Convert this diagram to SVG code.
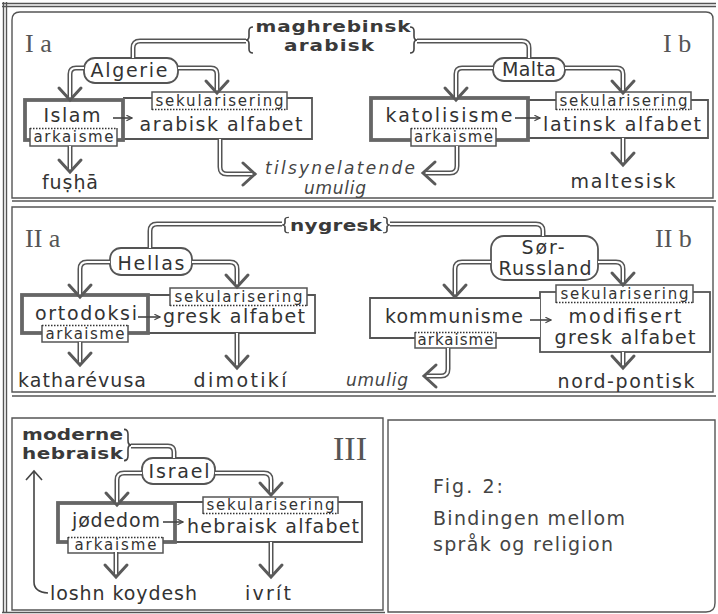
<svg xmlns="http://www.w3.org/2000/svg" xmlns:xlink="http://www.w3.org/1999/xlink" width="718" height="614" viewBox="0 0 718 614">
<style>
.frame{fill:none;stroke:#555;stroke-width:1.4}
.pO{fill:none;stroke:#555;stroke-width:5}
.pI{fill:none;stroke:#fff;stroke-width:2}
.ah{fill:none;stroke:#5a5a5a;stroke-width:3;stroke-linecap:round}
.sa{fill:none;stroke:#444;stroke-width:1.6}
.thin{fill:none;stroke:#444;stroke-width:1.6}
.box{fill:#fff;stroke:#555;stroke-width:1.8}
.tbox{fill:#fff;stroke:#666;stroke-width:3.8}
.pill{fill:#fff;stroke:#555;stroke-width:1.8}
.tag{fill:#fff;stroke:none}
.side{fill:none;stroke:#555;stroke-width:1.5}
.dot{fill:none;stroke:#333;stroke-width:1.5;stroke-dasharray:1.5 1.5}
.brace{fill:none;stroke:#444;stroke-width:1.6}
.lbl{font-family:"DejaVu Sans",sans-serif;font-size:19px;fill:#333}
.sm{font-size:15px}
.b{font-weight:bold;font-size:20px;fill:#3a3a3a}
.it{font-style:italic;fill:#444;font-size:17px}
.hdr{font-family:"Liberation Serif",serif;fill:#555}
.fig{font-family:"DejaVu Sans",sans-serif;font-size:19px;fill:#444}
</style>
<defs>
<path id="ah" d="M-11,-12 L0,0 L11,-12"/>
<path id="br" d="M4,-13 Q0,-13 0,-9 V-4 Q0,0 -3,0 Q0,0 0,4 V9 Q0,13 4,13"/>
<marker id="sm" viewBox="0 0 10 10" refX="9" refY="5" markerWidth="7" markerHeight="7" orient="auto" markerUnits="userSpaceOnUse">
<path d="M1,1 L9,5 L1,9" fill="none" stroke="#444" stroke-width="1.6"/>
</marker>
<path id="c1" d="M246,41 H140 Q133,41 133,48 V58"/>
<path id="c2" d="M84,68 H76 Q70,68 70,74 V98"/>
<path id="c3" d="M178,68 H211 Q217,68 217,74 V91"/>
<path id="c4" d="M70,146 V170"/>
<path id="c5" d="M220,139 V167 Q220,174 227,174 H253"/>
<path id="c6" d="M417,41 H522 Q529,41 529,48 V58"/>
<path id="c7" d="M493,68 H462 Q456,68 456,74 V98"/>
<path id="c8" d="M565,68 H617 Q623,68 623,74 V91"/>
<path id="c9" d="M457,146 V166 Q457,173 450,173 H425"/>
<path id="c10" d="M623,138 V163"/>
<path id="c11" d="M282,224 H157 Q150,224 150,231 V248"/>
<path id="c12" d="M110,262 H87 Q80,262 80,269 V295"/>
<path id="c13" d="M192,262 H230 Q237,262 237,269 V285"/>
<path id="c14" d="M80,342 V363"/>
<path id="c15" d="M237,333 V366"/>
<path id="c16" d="M390,224 H536 Q543,224 543,231 V236"/>
<path id="c17" d="M491,262 H462 Q455,262 455,269 V295"/>
<path id="c18" d="M598,262 H616 Q623,262 623,269 V283"/>
<path id="c19" d="M448,348 V369 Q448,376 441,376 H426"/>
<path id="c20" d="M623,352 V366"/>
<path id="c21" d="M131,446 H168 Q174,446 174,452 V458"/>
<path id="c22" d="M142,473 H124 Q117,473 117,480 V503"/>
<path id="c23" d="M215,473 H264 Q271,473 271,480 V493"/>
<path id="c24" d="M116,552 V575"/>
<path id="c25" d="M271,542 V575"/>
</defs>
<rect width="718" height="614" fill="#fff"/>

<g id="frames">
<path class="frame" d="M2,3.5 H716 M2,6.5 H716 M3.5,2 V612 M6.5,2 V612"/>
<path class="frame" d="M12,198 V20 Q12,12 20,12 H706 Q713,12 713,19 V198 Z"/>
<path class="frame" d="M12,201 H716"/>
<path class="frame" d="M12,207 H713 V392 H12 Z"/>
<path class="frame" d="M12,396 H716"/>
<path class="frame" d="M12,418 H383 V610 H12 Z"/>
<path class="frame" d="M2,612.5 H385"/>
<path class="frame" d="M388,420 H715 V603 Q715,612 706,612 H388 Z"/>
</g>

<g id="headers">
<text class="hdr" x="25" y="52" font-size="26">I a</text>
<text class="hdr" x="663" y="52" font-size="26">I b</text>
<text class="hdr" x="25" y="247" font-size="26">II a</text>
<text class="hdr" x="655" y="247" font-size="26">II b</text>
<text class="hdr" x="333" y="460" font-size="34">III</text>
</g>

<!-- Panel I a -->
<g id="maghrebinsk">
<use href="#br" class="brace" transform="translate(249,40)"/>
<use href="#br" class="brace" transform="translate(414,40) scale(-1,1)"/>
<text class="lbl b" transform="translate(333,32) scale(1,0.78)" text-anchor="middle" textLength="155" lengthAdjust="spacing">maghrebinsk</text>
<text class="lbl b" transform="translate(329,51) scale(1,0.78)" text-anchor="middle" textLength="90" lengthAdjust="spacing">arabisk</text>
</g>
<g id="algerie">
<rect class="pill" x="84" y="58" width="94" height="25" rx="11"/>
<text class="lbl" x="129" y="77" text-anchor="middle" textLength="77" lengthAdjust="spacing">Algerie</text>
</g>
<g id="arabisk-alfabet">
<path class="box" d="M123,98 H312 V139 H123"/>
<text class="lbl" x="221" y="131" text-anchor="middle" textLength="163" lengthAdjust="spacing">arabisk alfabet</text>
</g>
<g id="islam">
<rect class="tbox" x="25" y="100" width="98" height="40"/>
<text class="lbl" x="72" y="122" text-anchor="middle" textLength="57" lengthAdjust="spacing">Islam</text>
</g>
<g id="sek-1">
<rect class="tag" x="152" y="92" width="135" height="18"/>
<path class="side" d="M152,110 V92 H287 V110"/>
<path class="dot" d="M152,109.5 H287"/>
<text class="lbl sm" x="219.5" y="106" text-anchor="middle" textLength="128" lengthAdjust="spacing">sekularisering</text>
</g>
<g id="ark-1">
<rect class="tag" x="30" y="128" width="87" height="18"/>
<path class="side" d="M30,128 V146 H117 V128"/>
<path class="dot" d="M30,128.5 H117"/>
<text class="lbl sm" x="73.5" y="142" text-anchor="middle" textLength="80" lengthAdjust="spacing">arkaisme</text>
</g>
<g id="fusha"><text class="lbl" x="70" y="189" text-anchor="middle" textLength="56" lengthAdjust="spacing">fuṣḥā</text></g>
<g id="tilsynelatende">
<text class="lbl it" x="340" y="174" text-anchor="middle" textLength="150" lengthAdjust="spacing">tilsynelatende</text>
<text class="lbl it" x="335" y="194" text-anchor="middle" textLength="62" lengthAdjust="spacing">umulig</text>
</g>

<!-- Panel I b -->
<g id="malta">
<rect class="pill" x="493" y="58" width="72" height="23" rx="11"/>
<text class="lbl" x="529" y="76" text-anchor="middle" textLength="54" lengthAdjust="spacing">Malta</text>
</g>
<g id="latinsk-alfabet">
<path class="box" d="M528,100 H708 V138 H528"/>
<text class="lbl" x="622" y="131" text-anchor="middle" textLength="158" lengthAdjust="spacing">latinsk alfabet</text>
</g>
<g id="katolisisme">
<rect class="tbox" x="371" y="98" width="157" height="42"/>
<text class="lbl" x="449" y="122" text-anchor="middle" textLength="127" lengthAdjust="spacing">katolisisme</text>
</g>
<g id="sek-2">
<rect class="tag" x="556" y="92" width="135" height="18"/>
<path class="side" d="M556,110 V92 H691 V110"/>
<path class="dot" d="M556,109.5 H691"/>
<text class="lbl sm" x="623.5" y="106" text-anchor="middle" textLength="128" lengthAdjust="spacing">sekularisering</text>
</g>
<g id="ark-2">
<rect class="tag" x="411" y="128" width="85" height="18"/>
<path class="side" d="M411,128 V146 H496 V128"/>
<path class="dot" d="M411,128.5 H496"/>
<text class="lbl sm" x="453.5" y="142" text-anchor="middle" textLength="79" lengthAdjust="spacing">arkaisme</text>
</g>
<g id="maltesisk"><text class="lbl" x="623" y="188" text-anchor="middle" textLength="105" lengthAdjust="spacing">maltesisk</text></g>

<!-- Panel II a -->
<g id="nygresk">
<use href="#br" class="brace" transform="translate(285,225) scale(1,0.6)"/>
<use href="#br" class="brace" transform="translate(387,225) scale(-1,0.6)"/>
<text class="lbl b" transform="translate(336,231) scale(1,0.78)" text-anchor="middle" textLength="92" lengthAdjust="spacing">nygresk</text>
</g>
<g id="hellas">
<rect class="pill" x="110" y="248" width="82" height="27" rx="11"/>
<text class="lbl" x="151" y="270" text-anchor="middle" textLength="67" lengthAdjust="spacing">Hellas</text>
</g>
<g id="gresk-alfabet">
<path class="box" d="M148,295 H315 V333 H148"/>
<text class="lbl" x="234" y="323" text-anchor="middle" textLength="142" lengthAdjust="spacing">gresk alfabet</text>
</g>
<g id="ortodoksi">
<rect class="tbox" x="22" y="295" width="126" height="38"/>
<text class="lbl" x="86" y="320" text-anchor="middle" textLength="102" lengthAdjust="spacing">ortodoksi</text>
</g>
<g id="sek-3">
<rect class="tag" x="170" y="288" width="137" height="18"/>
<path class="side" d="M170,306 V288 H307 V306"/>
<path class="dot" d="M170,305.5 H307"/>
<text class="lbl sm" x="238.5" y="302" text-anchor="middle" textLength="128" lengthAdjust="spacing">sekularisering</text>
</g>
<g id="ark-3">
<rect class="tag" x="42" y="325" width="86" height="17"/>
<path class="side" d="M42,325 V342 H128 V325"/>
<path class="dot" d="M42,325.5 H128"/>
<text class="lbl sm" x="85" y="339" text-anchor="middle" textLength="79" lengthAdjust="spacing">arkaisme</text>
</g>
<g id="katharevusa"><text class="lbl" x="82" y="387" text-anchor="middle" textLength="128" lengthAdjust="spacing">katharévusa</text></g>
<g id="dimotiki"><text class="lbl" x="240" y="387" text-anchor="middle" textLength="93" lengthAdjust="spacing">dimotikí</text></g>

<!-- Panel II b -->
<g id="sor-russland">
<rect class="pill" x="491" y="236" width="107" height="44" rx="13"/>
<text class="lbl" x="543" y="254" text-anchor="middle" textLength="43" lengthAdjust="spacing">Sør-</text>
<text class="lbl" x="545" y="275" text-anchor="middle" textLength="93" lengthAdjust="spacing">Russland</text>
</g>
<g id="modifisert">
<rect class="box" x="540" y="292" width="170" height="60"/>
<text class="lbl" x="625" y="323" text-anchor="middle" font-size="18" textLength="113" lengthAdjust="spacing">modifisert</text>
<text class="lbl" x="625" y="344" text-anchor="middle" font-size="18" textLength="141" lengthAdjust="spacing">gresk alfabet</text>
</g>
<g id="kommunisme">
<path class="box" d="M540,298 H370 V338 H540" stroke-width="2.6"/>
<text class="lbl" x="454" y="323" text-anchor="middle" textLength="138" lengthAdjust="spacing">kommunisme</text>
</g>
<g id="sek-4">
<rect class="tag" x="556" y="285" width="137" height="18"/>
<path class="side" d="M556,303 V285 H693 V303"/>
<path class="dot" d="M556,302.5 H693"/>
<text class="lbl sm" x="624.5" y="299" text-anchor="middle" textLength="128" lengthAdjust="spacing">sekularisering</text>
</g>
<g id="ark-4">
<rect class="tag" x="415" y="332" width="81" height="16"/>
<path class="side" d="M415,332 V348 H496 V332"/>
<path class="dot" d="M415,332.5 H496"/>
<text class="lbl sm" x="455.5" y="345" text-anchor="middle" textLength="76" lengthAdjust="spacing">arkaisme</text>
</g>
<g id="umulig-2"><text class="lbl it" x="377" y="386" text-anchor="middle" textLength="62" lengthAdjust="spacing">umulig</text></g>
<g id="nord-pontisk"><text class="lbl" x="626" y="388" text-anchor="middle" textLength="137" lengthAdjust="spacing">nord-pontisk</text></g>

<!-- Panel III -->
<g id="moderne-hebraisk">
<use href="#br" class="brace" transform="translate(128,445) scale(-1,1.2)"/>
<text class="lbl b" transform="translate(22,440) scale(1,0.78)" textLength="101" lengthAdjust="spacing">moderne</text>
<text class="lbl b" transform="translate(22,459) scale(1,0.78)" textLength="101" lengthAdjust="spacing">hebraisk</text>
</g>
<g id="israel">
<rect class="pill" x="142" y="458" width="73" height="26" rx="11"/>
<text class="lbl" x="179" y="478" text-anchor="middle" textLength="61" lengthAdjust="spacing">Israel</text>
</g>
<g id="hebraisk-alfabet">
<path class="box" d="M175,502 H362 V542 H175"/>
<text class="lbl" x="273" y="533" text-anchor="middle" textLength="172" lengthAdjust="spacing">hebraisk alfabet</text>
</g>
<g id="jodedom">
<rect class="tbox" x="58" y="503" width="117" height="39"/>
<text class="lbl" x="116" y="527" text-anchor="middle" textLength="88" lengthAdjust="spacing">jødedom</text>
</g>
<g id="sek-5">
<rect class="tag" x="203" y="497" width="135" height="17"/>
<path class="side" d="M203,514 V497 H338 V514"/>
<path class="dot" d="M203,513.5 H338"/>
<text class="lbl sm" x="270.5" y="510" text-anchor="middle" textLength="128" lengthAdjust="spacing">sekularisering</text>
</g>
<g id="ark-5">
<rect class="tag" x="68" y="537" width="95" height="16"/>
<path class="side" d="M68,537 V553 H163 V537"/>
<path class="dot" d="M68,537.5 H163"/>
<text class="lbl sm" x="115.5" y="550" text-anchor="middle" textLength="82" lengthAdjust="spacing">arkaisme</text>
</g>
<g id="loshn-koydesh"><text class="lbl" x="50" y="600" textLength="147" lengthAdjust="spacing">loshn koydesh</text></g>
<g id="ivrit"><text class="lbl" x="268" y="600" text-anchor="middle" textLength="46" lengthAdjust="spacing">ivrít</text></g>

<g id="fig-caption">
<text class="fig" x="433" y="493" textLength="70" lengthAdjust="spacing">Fig. 2:</text>
<text class="fig" x="433" y="525" textLength="192" lengthAdjust="spacing">Bindingen mellom</text>
<text class="fig" x="433" y="551" textLength="180" lengthAdjust="spacing">språk og religion</text>
</g>

<g id="connectors">
<use href="#c1" class="pO"/><use href="#c1" class="pI"/>
<use href="#c2" class="pO"/><use href="#c2" class="pI"/>
<use href="#c3" class="pO"/><use href="#c3" class="pI"/>
<use href="#c4" class="pO"/><use href="#c4" class="pI"/>
<use href="#c5" class="pO"/><use href="#c5" class="pI"/>
<use href="#c6" class="pO"/><use href="#c6" class="pI"/>
<use href="#c7" class="pO"/><use href="#c7" class="pI"/>
<use href="#c8" class="pO"/><use href="#c8" class="pI"/>
<use href="#c9" class="pO"/><use href="#c9" class="pI"/>
<use href="#c10" class="pO"/><use href="#c10" class="pI"/>
<use href="#c11" class="pO"/><use href="#c11" class="pI"/>
<use href="#c12" class="pO"/><use href="#c12" class="pI"/>
<use href="#c13" class="pO"/><use href="#c13" class="pI"/>
<use href="#c14" class="pO"/><use href="#c14" class="pI"/>
<use href="#c15" class="pO"/><use href="#c15" class="pI"/>
<use href="#c16" class="pO"/><use href="#c16" class="pI"/>
<use href="#c17" class="pO"/><use href="#c17" class="pI"/>
<use href="#c18" class="pO"/><use href="#c18" class="pI"/>
<use href="#c19" class="pO"/><use href="#c19" class="pI"/>
<use href="#c20" class="pO"/><use href="#c20" class="pI"/>
<use href="#c21" class="pO"/><use href="#c21" class="pI"/>
<use href="#c22" class="pO"/><use href="#c22" class="pI"/>
<use href="#c23" class="pO"/><use href="#c23" class="pI"/>
<use href="#c24" class="pO"/><use href="#c24" class="pI"/>
<use href="#c25" class="pO"/><use href="#c25" class="pI"/>
<use href="#ah" class="ah" transform="translate(70,100)"/>
<use href="#ah" class="ah" transform="translate(217,93)"/>
<use href="#ah" class="ah" transform="translate(70,172)"/>
<use href="#ah" class="ah" transform="translate(255,174) rotate(-90)"/>
<use href="#ah" class="ah" transform="translate(456,100)"/>
<use href="#ah" class="ah" transform="translate(623,93)"/>
<use href="#ah" class="ah" transform="translate(423,173) rotate(90)"/>
<use href="#ah" class="ah" transform="translate(623,165)"/>
<use href="#ah" class="ah" transform="translate(80,297)"/>
<use href="#ah" class="ah" transform="translate(237,287)"/>
<use href="#ah" class="ah" transform="translate(80,365)"/>
<use href="#ah" class="ah" transform="translate(237,368)"/>
<use href="#ah" class="ah" transform="translate(455,297)"/>
<use href="#ah" class="ah" transform="translate(623,285)"/>
<use href="#ah" class="ah" transform="translate(424,376) rotate(90)"/>
<use href="#ah" class="ah" transform="translate(623,368)"/>
<use href="#ah" class="ah" transform="translate(117,505)"/>
<use href="#ah" class="ah" transform="translate(271,495)"/>
<use href="#ah" class="ah" transform="translate(116,577)"/>
<use href="#ah" class="ah" transform="translate(271,577)"/>
<path class="sa" d="M113,118 H132" marker-end="url(#sm)"/>
<path class="sa" d="M515,118 H540" marker-end="url(#sm)"/>
<path class="sa" d="M138,317 H160" marker-end="url(#sm)"/>
<path class="sa" d="M530,320 H551" marker-end="url(#sm)"/>
<path class="sa" d="M163,522 H183" marker-end="url(#sm)"/>
<path class="thin" d="M48,593 Q34,592 34,582 V472"/>
<path class="thin" d="M26,480 L34,471 L42,480"/>
</g>
</svg>
